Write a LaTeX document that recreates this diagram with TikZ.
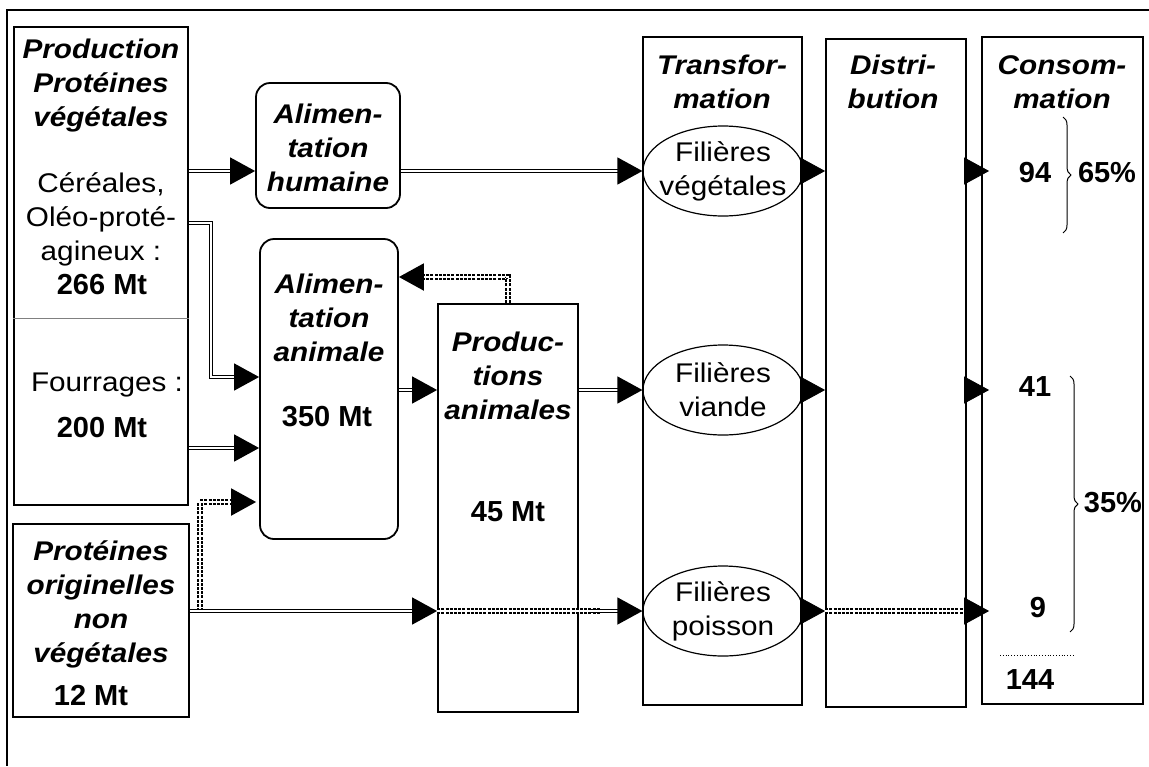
\documentclass[tikz,border=0pt]{standalone}
\usepackage{fontspec}
\setmainfont{Liberation Sans}[FakeStretch = 1.1]
\newfontfamily\chiffrefamily{Liberation Sans}
\usetikzlibrary{calc, arrows.meta, shapes.geometric, decorations.pathreplacing}

\newcommand{\policetitre}{\fontsize{13.5}{17}\selectfont\bfseries\itshape}
\newcommand{\policetexte}{\fontsize{13.5}{17}\selectfont}
\newcommand{\policechiffre}{\chiffrefamily\fontsize{14.5}{17}\selectfont\bfseries}

\tikzset{
    boite/.style = {draw, line width = 0.9pt, inner sep = 0pt},
    arrondie/.style = {boite, rounded corners = 7pt},
    filiere/.style = {draw, ellipse, line width = 0.6pt, minimum width = 80pt, minimum height = 45pt, inner xsep = -6pt, inner ysep = -4pt, align = center, font = \policetexte},
    titre/.style = {align = center, font = \policetitre},
    texte/.style = {align = center, font = \policetexte},
    chiffre/.style = {font = \policechiffre},
    trait/.style = {double, double distance = 1pt, line width = 0.7pt},
    pointille/.style = {double, double distance = 0.7pt, line width = 1pt, dash pattern = on 1.5pt off 0.6pt},
    pointe/.style = {-{Triangle[length = 12.5pt, width = 13.5pt]}},
    accolade/.style = {decorate, decoration = {brace, amplitude = 4pt}, line width = 0.5pt}
}

\begin{document}
\begin{tikzpicture}[x = 0.5pt, y = -0.5pt]
    \useasboundingbox (0, 0) rectangle (1149, 766);
    \draw[line width = 0.8pt] (1149, 10) -- (7, 10) -- (7, 766);

    \node[boite, minimum width = 87pt, minimum height = 239pt] (prodveg) at (101, 266) {};
    \node[boite, minimum width = 88pt, minimum height = 96.5pt] (protorig) at (101, 620.5) {};
    \node[arrondie, minimum width = 72pt, minimum height = 62.5pt] (alimhum) at (328, 145.5) {};
    \node[arrondie, minimum width = 69pt, minimum height = 150pt] (alimani) at (329, 389) {};
    \node[boite, minimum width = 70pt, minimum height = 204pt] (prodani) at (508, 508) {};
    \node[boite, minimum width = 79.5pt, minimum height = 334pt] (transfo) at (722.5, 371) {};
    \node[boite, minimum width = 70pt, minimum height = 334pt] (distrib) at (896, 373) {};
    \node[boite, minimum width = 80.5pt, minimum height = 333.5pt] (conso) at (1062.5, 370.5) {};

    \coordinate (separation) at (0, 318);
    \draw[line width = 0.5pt, gray] (prodveg.west |- separation) -- (prodveg.east |- separation);

    \node[filiere] (filveg) at (723, 171) {Filières\\végétales};
    \node[filiere] (filviande) at (723, 390) {Filières\\viande};
    \node[filiere] (filpoisson) at (723, 611) {Filières\\poisson};

    \node[titre] (t-prodveg) at (101, 86) {Production\\Protéines\\végétales};
    \node[texte] (t-cereales) at (101, 219) {Céréales,\\Oléo-proté-\\agineux :};
    \node[chiffre] (q-cereales) at (102, 285) {266 Mt};
    \node[texte] (t-fourrages) at (107, 385) {Fourrages :};
    \node[chiffre] (q-fourrages) at (102, 428) {200 Mt};
    \node[titre] (t-protorig) at (101, 604) {Protéines\\originelles\\non\\végétales};
    \node[chiffre] (q-protorig) at (91, 695) {12 Mt};
    \node[titre] (t-alimhum) at (328, 148) {Alimen-\\tation\\humaine};
    \node[titre] (t-alimani) at (329, 318) {Alimen-\\tation\\animale};
    \node[chiffre] (q-alimani) at (327, 417) {350 Mt};
    \node[titre] (t-prodani) at (508, 376) {Produc-\\tions\\animales};
    \node[chiffre] (q-prodani) at (508, 512) {45 Mt};
    \node[titre] (t-transfo) at (722, 82) {Transfor-\\mation};
    \node[titre] (t-distrib) at (893, 82) {Distri-\\bution};
    \node[titre] (t-conso) at (1062, 82) {Consom-\\mation};

    \node[chiffre] (q-veg) at (1035, 173) {94};
    \node[chiffre] (p-veg) at (1107, 173) {65\%};
    \node[chiffre] (q-viande) at (1035, 387) {41};
    \node[chiffre] (q-poisson) at (1038, 608) {9};
    \node[chiffre] (q-total) at (1030, 680) {144};
    \node[chiffre] (p-animal) at (1113, 503) {35\%};

    \coordinate (coude-oleo) at (211, 223);
    \coordinate (niv-aa) at (0, 377);
    \coordinate (niv-fourrages) at (0, 448);
    \coordinate (niv-retour) at (0, 277);
    \coordinate (niv-entree) at (0, 502);
    \coordinate (depart) at (200, 611);
    \coordinate (sortie) at (600, 611);
    \coordinate (relais) at (590, 611);

    \draw[trait, pointe] (prodveg.east |- filveg.west) -- (alimhum.west |- filveg.west);
    \draw[trait, pointe] (alimhum.east |- filveg.west) -- (filveg.west);
    \draw[trait, pointe] (prodveg.east |- coude-oleo) -- (coude-oleo) |- (alimani.west |- niv-aa);
    \draw[trait, pointe] (prodveg.east |- niv-fourrages) -- (alimani.west |- niv-fourrages);
    \draw[trait, pointe] (alimani.east |- filviande.west) -- (prodani.west |- filviande.west);
    \draw[trait, pointe] (prodani.east |- filviande.west) -- (filviande.west);
    \draw[pointille, pointe] (prodani.north) |- (alimani.east |- niv-retour);
    \draw[pointille, pointe, shorten > = 1.5pt] (depart) |- (alimani.west |- niv-entree);
    \draw[trait, pointe] (protorig.east |- filpoisson.west) -- (prodani.west |- filpoisson.west);
    \draw[pointille] (prodani.west |- sortie) -- (sortie);
    \draw[trait, pointe] (relais) -- (filpoisson.west);

    \foreach \f in {filveg, filviande, filpoisson} {
        \draw[pointe] (\f.east) -- (distrib.west |- \f.east);
    }
    \foreach \f in {filveg, filviande} {
        \draw[pointe, shorten > = -4pt] (distrib.east |- \f.east) -- (conso.west |- \f.east);
    }
    \draw[pointille] (distrib.west |- filpoisson.east) -- (distrib.east |- filpoisson.east);
    \draw[pointe, shorten > = -4pt] (distrib.east |- filpoisson.east) -- (conso.west |- filpoisson.east);

    \coordinate (acc-veg-haut) at (1063, 117);
    \coordinate (acc-veg-bas) at (1063, 233);
    \coordinate (acc-ani-haut) at (1070, 376);
    \coordinate (acc-ani-bas) at (1070, 632);
    \draw[accolade] (acc-veg-haut) -- (acc-veg-bas);
    \draw[accolade] (acc-ani-haut) -- (acc-ani-bas);

    \coordinate (somme-g) at (1000, 655);
    \coordinate (somme-d) at (1073, 655);
    \draw[densely dotted, line width = 0.4pt] (somme-g) -- (somme-d);
\end{tikzpicture}
\end{document}
